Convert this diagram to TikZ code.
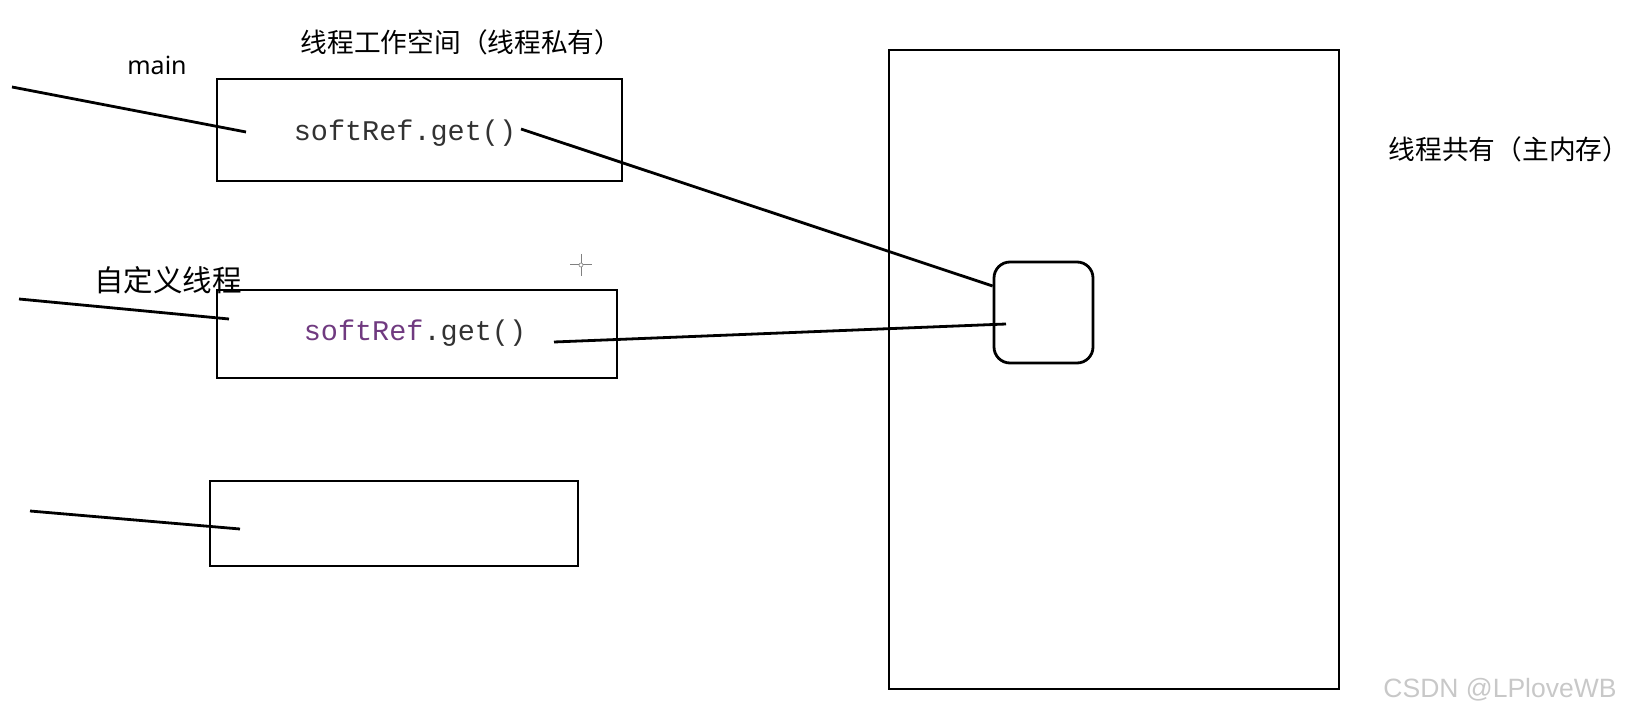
\documentclass[tikz,border=0pt]{standalone}
\usepackage{fontspec}
\usetikzlibrary{calc}
\setmainfont{Noto Sans}
\newfontfamily\cjk{Noto Sans CJK SC}
\newfontfamily\mono{Liberation Mono}
\newfontfamily\wm{Liberation Sans}
\definecolor{codepurple}{RGB}{112,58,128}
\definecolor{codegray}{RGB}{50,50,50}
\definecolor{wmgray}{RGB}{200,200,200}
\tikzset{
  box/.style={draw=black, line width=2.8pt, inner sep=0pt},
  wire/.style={draw=black, line width=2.8pt},
  cjklabel/.style={font=\cjk\fontsize{26.7}{30}\selectfont, inner sep=0pt},
  code/.style={font=\mono\fontsize{28.5}{30}\selectfont, inner sep=0pt, text=codegray},
}
\begin{document}
\begin{tikzpicture}[x=1pt,y=-1pt]
\useasboundingbox (0,0) rectangle (1639,719);
% labels
\node[cjklabel] (title) at (461,42) {线程工作空间（线程私有）};
\node[font=\fontsize{25}{28}\selectfont, inner sep=0pt] (main) at (157,65) {main};
\node[font=\cjk\fontsize{29.5}{32}\selectfont, inner sep=0pt] (custom) at (168,280) {自定义线程};
\node[cjklabel] (shared) at (1509,149) {线程共有（主内存）};
% boxes
\node[box, minimum width=405pt, minimum height=102pt] (b1) at (419.5,130) {};
\node[box, minimum width=400pt, minimum height=88pt] (b2) at (417,334) {};
\node[box, minimum width=368pt, minimum height=85pt] (b3) at (394,523.5) {};
\node[box, minimum width=450pt, minimum height=639pt] (heap) at (1114,369.5) {};
\node[box, rounded corners=16pt, minimum width=99pt, minimum height=101pt] (obj) at (1043.5,312.5) {};
% code texts
\node[code, anchor=base] (c1) at (405,141) {softRef.get()};
\node[code, anchor=base] (c2) at (415,341) {\textcolor{codepurple}{softRef}.get()};
% thread wires
\coordinate (m0) at (12,87);   \coordinate (m1) at (246,132);
\coordinate (t0) at (19,299);  \coordinate (t1) at (229,319);
\coordinate (u0) at (30,511);  \coordinate (u1) at (240,529);
\draw[wire] (m0) -- (m1);
\draw[wire] (t0) -- (t1);
\draw[wire] (u0) -- (u1);
% references to shared object
\coordinate (r1s) at (521,129);
\coordinate (r2s) at (554,342);
\coordinate (r2e) at (1006,324);
\draw[wire] (r1s) -- (obj.west |- 0,286);
\draw[wire] (r2s) -- (r2e);
% cursor
\coordinate (cur) at (581,265);
\draw[gray, line width=1pt] ($(cur)+(-11,0)$) -- ($(cur)+(11,0)$) ($(cur)+(0,-11)$) -- ($(cur)+(0,11)$);
\draw[gray, line width=0.6pt, fill=white] (cur) circle (2pt);
% watermark
\node[font=\wm\fontsize{26.5}{28}\selectfont, text=wmgray, inner sep=0pt] (wmk) at (1500,690) {CSDN @LPloveWB};
\end{tikzpicture}
\end{document}
